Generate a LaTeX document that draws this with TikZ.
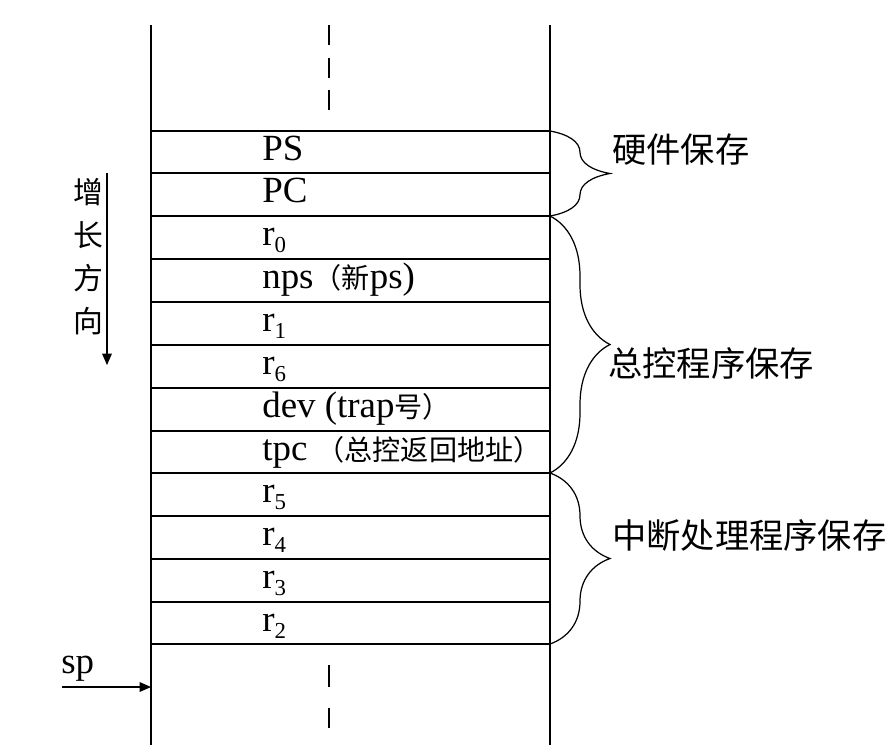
\documentclass[tikz,border=0pt]{standalone}
\usepackage{fontspec}
\setmainfont{Liberation Serif}
\newfontfamily\cjk{Noto Sans CJK SC}
\usetikzlibrary{arrows.meta,decorations.pathreplacing}
\newcommand{\reg}[1]{r\raisebox{-4.5pt}{\fontsize{13}{13}\selectfont #1}}
\newcommand{\zh}[1]{{\cjk\fontsize{16}{20}\selectfont #1}}

\begin{document}
\begin{tikzpicture}
    [x=0.02cm,y=-0.02cm,
    wall/.style={line width=0.9pt},
    slot/.style={line width=0.8pt},
    gap/.style={line width=0.8pt},
    entry/.style={anchor=base west,inner sep=0pt,font=\fontsize{21}{24}\selectfont},
    note/.style={anchor=west,inner sep=0pt,font=\cjk\fontsize{19.5}{24}\selectfont},
    bracket/.style={decorate,decoration={brace,amplitude=1.2cm},line width=0.7pt},
    pointer/.style={-{Triangle[length=6.5pt,width=5.5pt]},line width=0.7pt}]

    \useasboundingbox (0,0) rectangle (892,745);

    % stack walls
    \coordinate (lt) at (151,25);
    \coordinate (lb) at (151,745);
    \coordinate (rt) at (550,25);
    \coordinate (rb) at (550,745);
    \draw[wall] (lt) -- (lb);
    \draw[wall] (rt) -- (rb);

    % slots
    \foreach \y [count=\i from 0] in {131,173,216,259,302,345,388,431,473,516,559,602,644} {
        \coordinate (w\i) at (151,\y);
        \coordinate (e\i) at (550,\y);
        \draw[slot] (w\i) -- (e\i);
    }
    \foreach \t [count=\i from 0] in {{PS},{PC},{\reg{0}},{nps\zh{（新}ps)},{\reg{1}},{\reg{6}},
        {dev (trap\zh{号）}},{tpc \zh{（总控返回地址）}},{\reg{5}},{\reg{4}},{\reg{3}},{\reg{2}}}
        \node[entry] (row\i) at ([xshift=2.22cm,yshift=-0.58cm]w\i) {\t};

    % elided parts of the stack
    \foreach \a/\b in {25/45,58/78,90/110,665/687,708/728}
        \draw[gap] (329,\a) -- (329,\b);

    % groups
    \draw[bracket] (e0) -- (e2);
    \draw[bracket] (e2) -- (e8);
    \draw[bracket] (e8) -- (e12);
    \node[note] (hw) at (612,150) {硬件保存};
    \node[note] (ctl) at (608,363) {总控程序保存};
    \node[note] (isr) at (612,535) {中断处理程序保存};

    % growth direction
    \node[inner sep=0pt,align=center,font=\cjk\fontsize{17}{24.5}\selectfont] (grow) at (88,257) {增\\长\\方\\向};
    \coordinate (gtop) at (107,173);
    \coordinate (gend) at (107,365);
    \draw[pointer] (gtop) -- (gend);

    % stack pointer
    \node[entry] (sp) at (61,673) {sp};
    \coordinate (spfrom) at (62,687);
    \coordinate (spto) at (151,687);
    \draw[pointer] (spfrom) -- (spto);
\end{tikzpicture}
\end{document}
